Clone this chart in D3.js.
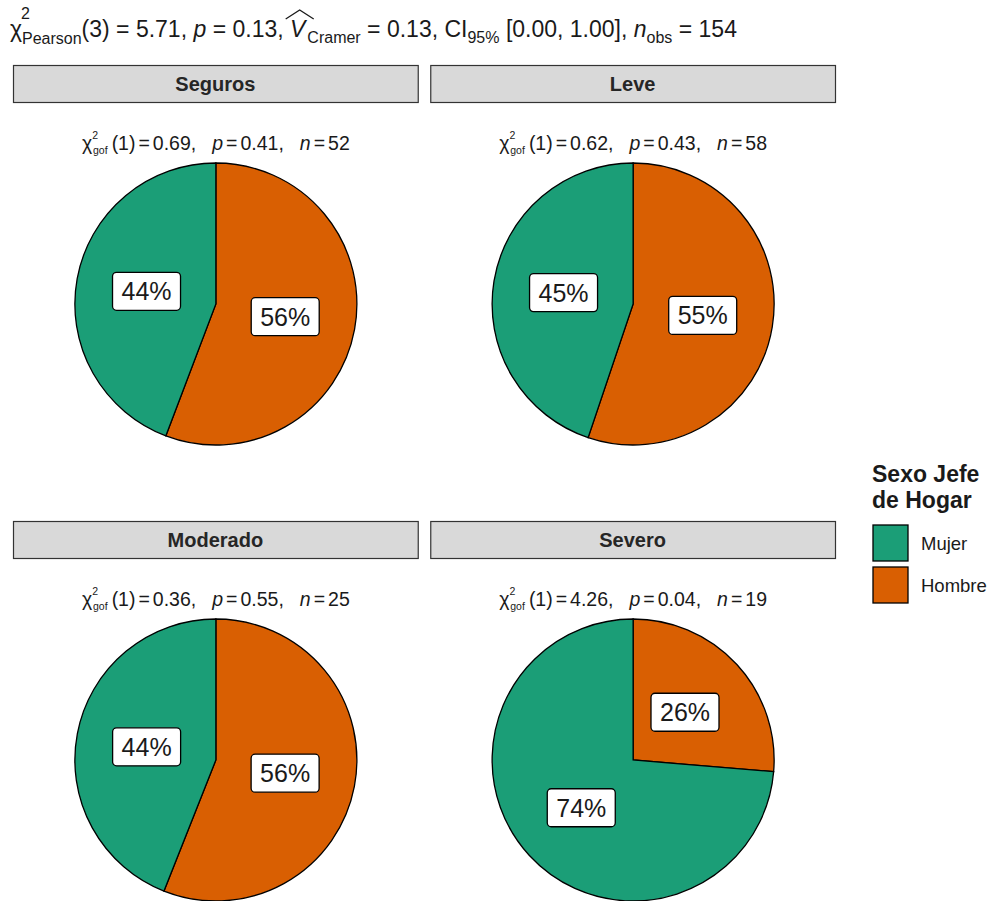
<!DOCTYPE html>
<html>
<head>
<meta charset="utf-8">
<script src="https://cdn.jsdelivr.net/npm/d3@7"></script>
<style>
  html, body { margin: 0; padding: 0; background: #fff; }
  svg { display: block; font-family: "Liberation Sans", Arial, sans-serif; }
  text { white-space: pre; }
</style>
</head>
<body>
<svg id="chart" width="992" height="901"></svg>
<script>
// Facet categories and counts per household-head sex
const panels = ["Seguros", "Leve", "Moderado", "Severo"];
const sexes = ["Mujer", "Hombre"];
const mujerCounts = [23, 26, 11, 14];
const hombreCounts = [29, 32, 14, 5];
// Goodness-of-fit results per facet
const chiGof = ["0.69", "0.62", "0.36", "4.26"];
const pGof = ["0.41", "0.43", "0.55", "0.04"];
const nGof = [52, 58, 25, 19];

const colors = d3.scaleOrdinal().domain(sexes).range(["#1B9E77", "#D95F02"]);

const svg = d3.select("#chart");

// Facet grid
const colScale = d3.scaleBand().domain([0, 1]).range([13, 835]).paddingInner(0.03);
const rowTop = d3.scaleOrdinal().domain([0, 1]).range([65, 521]);
const stripH = 37;
const radius = 141;

// Overall test title
const title = svg.append("text").attr("x", 10).attr("y", 37)
  .attr("font-size", 23).attr("fill", "#1a1a1a");
title.append("tspan").text("χ");
title.append("tspan").attr("font-size", 16).attr("dy", -18).attr("dx", -1).text("2");
title.append("tspan").attr("font-size", 16).attr("dy", 25).attr("dx", -8).text("Pearson");
title.append("tspan").attr("dy", -7).text("(3) = 5.71, ");
title.append("tspan").attr("font-style", "italic").text("p");
title.append("tspan").text(" = 0.13, ");
title.append("tspan").attr("font-style", "italic").text("V");
title.append("tspan").attr("font-size", 16).attr("dy", 6).attr("dx", 2).text("Cramer");
title.append("tspan").attr("dy", -6).text(" = 0.13, CI");
title.append("tspan").attr("font-size", 16).attr("dy", 6).text("95%");
title.append("tspan").attr("dy", -6).text(" [0.00, 1.00], ");
title.append("tspan").attr("font-style", "italic").text("n");
title.append("tspan").attr("font-size", 16).attr("dy", 6).text("obs");
title.append("tspan").attr("dy", -6).text(" = 154");

// Hat over V
(function () {
  let x0 = 300, x1 = 315;
  try {
    const full = title.node().textContent;
    const ext = title.node().getExtentOfChar(full.indexOf("V"));
    x0 = ext.x; x1 = ext.x + ext.width;
  } catch (e) {}
  const cx = (x0 + x1) / 2 + 2;
  svg.append("path")
    .attr("d", `M${cx - 14},${19} L${cx},${10} L${cx + 14},${19}`)
    .attr("fill", "none").attr("stroke", "#1a1a1a").attr("stroke-width", 1.3);
})();

const pie = d3.pie().sort(null).value(d => d.value);
const arc = d3.arc().innerRadius(0).outerRadius(radius);
const labelArc = d3.arc().innerRadius(radius * 0.5).outerRadius(radius * 0.5);

panels.forEach((name, i) => {
  const col = i % 2, row = Math.floor(i / 2);
  const x0 = colScale(col), w = colScale.bandwidth();
  const y0 = rowTop(row);
  const g = svg.append("g");

  // Strip
  g.append("rect").attr("x", x0 + 0.5).attr("y", y0 + 0.5).attr("width", w).attr("height", stripH)
    .attr("fill", "#D9D9D9").attr("stroke", "#333333").attr("stroke-width", 1.2);
  g.append("text").attr("x", x0 + w / 2).attr("y", y0 + stripH / 2 + 7)
    .attr("text-anchor", "middle").attr("font-size", 20).attr("font-weight", "bold")
    .attr("fill", "#262626").text(name);

  const cx = x0 + w / 2 + 0.5;
  const cy = y0 + 239;

  // Subtitle with goodness-of-fit test
  const sub = g.append("text").attr("x", cx).attr("y", y0 + 85)
    .attr("text-anchor", "middle").attr("font-size", 19.5).attr("fill", "#1a1a1a");
  sub.append("tspan").text("χ");
  sub.append("tspan").attr("font-size", 10.5).attr("dy", -11).attr("dx", 0).text("2");
  sub.append("tspan").attr("font-size", 10.5).attr("dy", 15).attr("dx", -5).text("gof");
  sub.append("tspan").attr("dy", -4).attr("dx", 4).text("(1)");
  sub.append("tspan").attr("dx", 3).text("=");
  sub.append("tspan").attr("dx", 3).text(chiGof[i] + ",");
  sub.append("tspan").attr("dx", 16).attr("font-style", "italic").text("p");
  sub.append("tspan").attr("dx", 3).text("=");
  sub.append("tspan").attr("dx", 3).text(pGof[i] + ",");
  sub.append("tspan").attr("dx", 16).attr("font-style", "italic").text("n");
  sub.append("tspan").attr("dx", 3).text("=");
  sub.append("tspan").attr("dx", 3).text(nGof[i]);

  // Pie: Hombre first, clockwise from 12 o'clock
  const data = [
    { sex: "Hombre", value: hombreCounts[i] },
    { sex: "Mujer", value: mujerCounts[i] }
  ];
  const total = d3.sum(data, d => d.value);
  const arcs = pie(data);
  const pg = g.append("g").attr("transform", `translate(${cx},${cy})`);
  pg.selectAll("path.slice").data(arcs).join("path").attr("class", "slice")
    .attr("d", arc).attr("fill", d => colors(d.data.sex))
    .attr("stroke", "#000").attr("stroke-width", 1.3);

  // Percentage labels
  arcs.forEach(d => {
    const [lx, ly] = labelArc.centroid(d);
    const pct = Math.round(100 * d.data.value / total) + "%";
    const lg = pg.append("g").attr("transform", `translate(${lx},${ly})`);
    lg.append("rect").attr("x", -34).attr("y", -19).attr("width", 68).attr("height", 38)
      .attr("rx", 4).attr("fill", "#fff").attr("stroke", "#000").attr("stroke-width", 1.3);
    lg.append("text").attr("text-anchor", "middle").attr("y", 9)
      .attr("font-size", 25).attr("fill", "#1a1a1a").text(pct);
  });
});

// Legend
const lgd = svg.append("g");
lgd.append("text").attr("x", 872).attr("y", 482).attr("font-size", 23).attr("font-weight", "bold")
  .attr("fill", "#1a1a1a").text("Sexo Jefe");
lgd.append("text").attr("x", 872).attr("y", 508).attr("font-size", 23).attr("font-weight", "bold")
  .attr("fill", "#1a1a1a").text("de Hogar");
sexes.forEach((s, k) => {
  const ky = 525 + k * 42;
  lgd.append("rect").attr("x", 873).attr("y", ky).attr("width", 35).attr("height", 36)
    .attr("fill", colors(s)).attr("stroke", "#000").attr("stroke-width", 1.3);
  lgd.append("text").attr("x", 921).attr("y", ky + 25).attr("font-size", 18.5)
    .attr("fill", "#1a1a1a").text(s);
});
</script>
</body>
</html>
